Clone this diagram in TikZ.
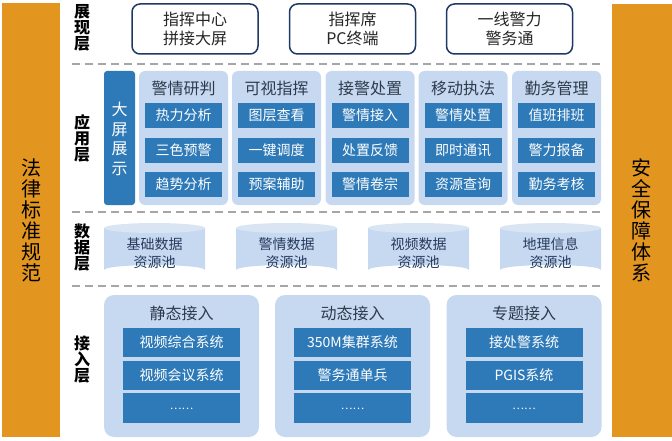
\documentclass[tikz,border=0pt]{standalone}
\usepackage{fontspec}
\setmainfont{Noto Sans CJK SC}
\definecolor{orangeC}{HTML}{E2951F}
\definecolor{darkblue}{HTML}{2E7AB8}
\definecolor{lightblue}{HTML}{C7D9F1}
\definecolor{cyltopC}{HTML}{DAE5F4}
\definecolor{navy}{HTML}{1F3864}
\definecolor{titleC}{HTML}{2F3B4C}
\definecolor{cyltext}{HTML}{263A5C}
\definecolor{sepC}{HTML}{A6A6A6}
\begin{document}
\begin{tikzpicture}[x=1pt,y=-1pt,
  orangebar/.style={fill=orangeC, draw=none, inner sep=0pt},
  sidetext/.style={font=\fontsize{20}{21}\selectfont, align=center, text=black},
  layerlabel/.style={font=\fontsize{16}{16}\selectfont\bfseries, align=center, text=black},
  showbox/.style={draw=navy, line width=1.5pt, fill=white, rounded corners=8pt, minimum width=126pt, minimum height=50pt, inner sep=0pt, align=center, font=\fontsize{16}{19}\selectfont, text=black!85},
  panel/.style={fill=lightblue, draw=none, rounded corners=6pt, inner sep=0pt},
  bigpanel/.style={fill=lightblue, draw=none, rounded corners=10pt, inner sep=0pt},
  ptitle/.style={font=\fontsize{16}{16}\selectfont, text=titleC},
  darkbox/.style={fill=darkblue, draw=none, inner sep=0pt, minimum width=77pt, minimum height=25pt, text=white, font=\fontsize{14}{14}\selectfont},
  accbox/.style={fill=darkblue, draw=none, inner sep=0pt, minimum width=117pt, minimum height=29.5pt, text=white, font=\fontsize{14}{14}\selectfont},
  sepline/.style={draw=sepC, line width=1.8pt, dash pattern=on 8pt off 5pt},
  cylbody/.style={fill=lightblue},
  cyltop/.style={fill=cyltopC},
  cyltxt/.style={font=\fontsize{14}{18}\selectfont, align=center, text=cyltext}
]
\useasboundingbox (0,0) rectangle (672,441);

% side bars
\node[orangebar, minimum width=58pt, minimum height=434pt] (leftbar) at (31,220) {};
\node[sidetext] (lefttxt) at (31,220) {法\\律\\标\\准\\规\\范};
\node[orangebar, minimum width=60pt, minimum height=433pt] (rightbar) at (642,220.5) {};
\node[sidetext] (righttxt) at (641,220) {安\\全\\保\\障\\体\\系};

% layer labels
\node[layerlabel] (L1) at (82,28) {展\\现\\层};
\node[layerlabel] (L2) at (82,138) {应\\用\\层};
\node[layerlabel] (L3) at (82,248) {数\\据\\层};
\node[layerlabel] (L4) at (82,360) {接\\入\\层};

% separators
\coordinate (s1a) at (72,64);  \coordinate (s1b) at (601,64);
\coordinate (s2a) at (72,212); \coordinate (s2b) at (601,212);
\coordinate (s3a) at (72,286); \coordinate (s3b) at (601,286);
\draw[sepline] (s1a) -- (s1b);
\draw[sepline] (s2a) -- (s2b);
\draw[sepline] (s3a) -- (s3b);

% presentation layer
\node[showbox] (p1) at (195,29) {指挥中心\\拼接大屏};
\node[showbox] (p2) at (352.5,29) {指挥席\\PC终端};
\node[showbox] (p3) at (509.5,29) {一线警力\\警务通};

% application layer
\node[fill=darkblue, rounded corners=3pt, minimum width=31pt, minimum height=134pt, inner sep=0pt] (big) at (119.5,138) {};
\node[font=\fontsize{16}{19.5}\selectfont, align=center, text=white] (bigtxt) at (119.5,139) {大\\屏\\展\\示};

\foreach \cx/\nm/\t/\a/\b/\c in {
  183.5/A/警情研判/热力分析/三色预警/趋势分析,
  276.5/B/可视指挥/图层查看/一键调度/预案辅助,
  370/C/接警处置/警情接入/处置反馈/警情卷宗,
  463/D/移动执法/警情处置/即时通讯/资源查询,
  556.5/E/勤务管理/值班排班/警力报备/勤务考核}{
  \node[panel, minimum width=89pt, minimum height=134pt] (pan\nm) at (\cx,138) {};
  \node[ptitle] (tit\nm) at (\cx,88) {\t};
  \node[darkbox] (\nm1) at (\cx,115.5) {\a};
  \node[darkbox] (\nm2) at (\cx,150.5) {\b};
  \node[darkbox] (\nm3) at (\cx,184.5) {\c};
}

% data layer cylinders
\foreach \x/\nm/\la/\lb in {104/c1/基础数据/资源池, 236/c2/警情数据/资源池, 368/c3/视频数据/资源池, 500/c4/地理信息/资源池}{
  \fill[cylbody] (\x,228) -- (\x,270) arc[start angle=180, end angle=360, x radius=50.5, y radius=5] -- (\x+101,228) -- cycle;
  \fill[cyltop] (\x+50.5,228) ellipse [x radius=50.5, y radius=5];
  \node[cyltxt] (\nm) at (\x+50.5,253) {\la\\\lb};
}

% access layer
\foreach \cx/\nm/\t/\a/\b in {
  181.5/F/静态接入/视频综合系统/视频会议系统,
  352.5/G/动态接入/350M集群系统/警务通单兵,
  524/H/专题接入/接处警系统/PGIS系统}{
  \node[bigpanel, minimum width=155pt, minimum height=142pt] (acc\nm) at (\cx,366) {};
  \node[ptitle] (atit\nm) at (\cx,313) {\t};
  \node[accbox] (\nm1) at (\cx,342.5) {\a};
  \node[accbox] (\nm2) at (\cx,375.5) {\b};
  \node[accbox] (\nm3) at (\cx,408) {\raisebox{-3pt}{\fontsize{11}{11}\selectfont ……}};
}
\end{tikzpicture}
\end{document}
